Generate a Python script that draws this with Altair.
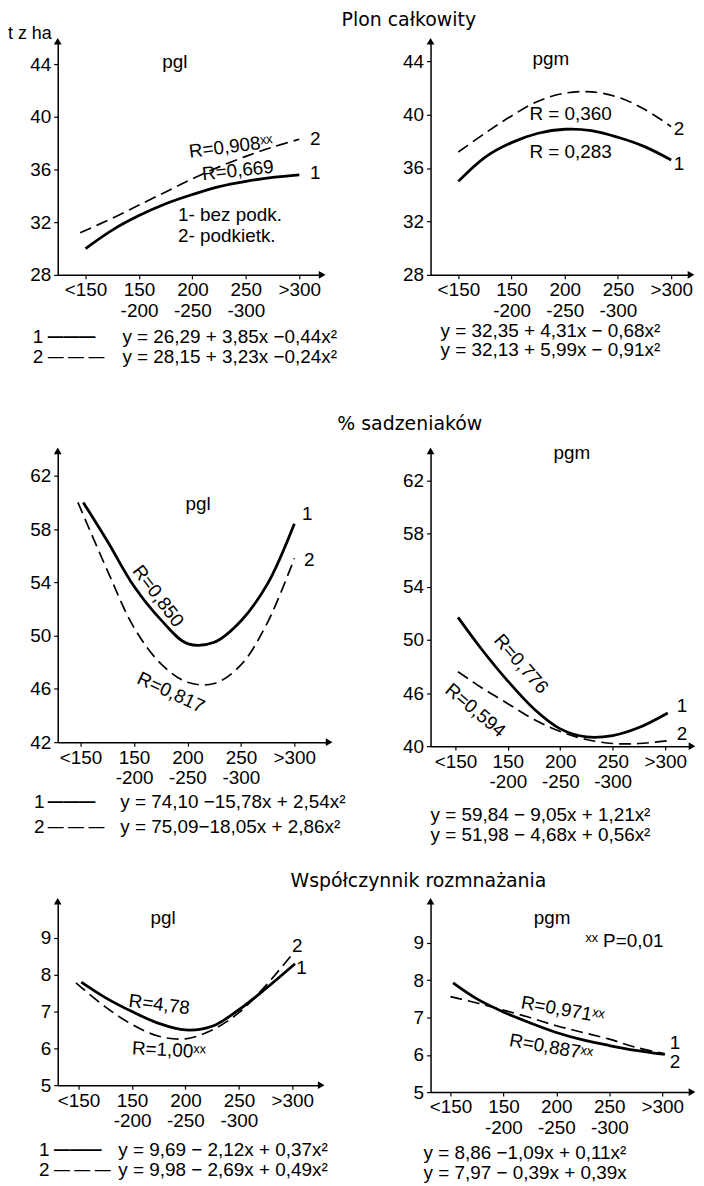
import altair as alt
import pandas as pd

FONT = "Liberation Sans"
TFONT = "DejaVu Sans"
FS = 19

# x categories (tuber size classes, g)
X_TICKS = [1, 2, 3, 4, 5]
XLAB_TOP = ["<150", "150", "200", "250", ">300"]
XLAB_BOT = ["", "-200", "-250", "-300", ""]

# ---------- Plon całkowity ----------
P1_X1 = [1.0, 1.5, 2.0, 2.5, 3.0, 3.5, 4.0, 4.5, 5.0]
P1_Y1 = [30.0, 31.4, 32.5, 33.4, 34.1, 34.7, 35.1, 35.4, 35.6]
P1_X2 = [0.9, 1.5, 2.0, 2.5, 3.0, 3.5, 4.0, 4.5, 5.0]
P1_Y2 = [31.2, 32.3, 33.3, 34.3, 35.3, 36.2, 37.0, 37.7, 38.3]

P2_X1 = [1.0, 1.5, 2.0, 2.5, 3.0, 3.5, 4.0, 4.5, 5.0]
P2_Y1 = [35.0, 36.8, 37.9, 38.6, 38.9, 38.8, 38.3, 37.6, 36.6]
P2_X2 = [1.0, 1.5, 2.0, 2.5, 3.0, 3.5, 4.0, 4.5, 5.0]
P2_Y2 = [37.2, 38.6, 39.9, 41.0, 41.6, 41.7, 41.3, 40.4, 39.1]

# ---------- % sadzeniaków ----------
P3_X1 = [1.05, 1.5, 2.0, 2.5, 3.0, 3.5, 4.0, 4.5, 5.0]
P3_Y1 = [60.0, 57.1, 53.7, 51.2, 49.4, 49.5, 51.1, 53.9, 58.4]
P3_X2 = [0.95, 1.5, 2.0, 2.5, 3.0, 3.5, 4.0, 4.5, 5.0]
P3_Y2 = [60.0, 54.9, 50.6, 47.9, 46.5, 46.4, 47.8, 51.0, 55.8]

P4_X1 = [1.05, 1.5, 2.0, 2.5, 3.0, 3.5, 4.0, 4.5, 5.05]
P4_Y1 = [51.7, 49.3, 46.9, 44.8, 43.3, 42.7, 42.8, 43.4, 44.5]
P4_X2 = [1.05, 1.5, 2.0, 2.5, 3.0, 3.5, 4.0, 4.5, 5.05]
P4_Y2 = [47.6, 46.4, 45.2, 44.0, 43.1, 42.5, 42.2, 42.2, 42.4]

# ---------- Współczynnik rozmnażania ----------
P5_X1 = [1.05, 1.5, 2.0, 2.5, 3.0, 3.5, 4.0, 4.5, 5.05]
P5_Y1 = [7.8, 7.38, 7.0, 6.68, 6.5, 6.6, 7.05, 7.62, 8.3]
P5_X2 = [0.95, 1.5, 2.0, 2.5, 3.0, 3.5, 4.0, 4.5, 5.05]
P5_Y2 = [7.78, 7.13, 6.65, 6.33, 6.26, 6.5, 6.97, 7.7, 8.65]

P6_X1 = [1.05, 1.5, 2.0, 2.5, 3.0, 3.5, 4.0, 4.5, 5.05]
P6_Y1 = [7.93, 7.5, 7.15, 6.86, 6.6, 6.4, 6.25, 6.12, 6.01]
P6_X2 = [1.0, 1.5, 2.0, 2.5, 3.0, 3.5, 4.0, 4.5, 5.05]
P6_Y2 = [7.56, 7.39, 7.2, 7.0, 6.78, 6.6, 6.42, 6.2, 6.03]

Y_TICKS_A = [28, 32, 36, 40, 44]
Y_TICKS_B = [42, 46, 50, 54, 58, 62]
Y_TEXT_B4 = ["40", "46", "50", "54", "58", "62"]
Y_TICKS_C = [5, 6, 7, 8, 9]

X_EXPR = "[" + ",".join("['%s','%s']" % (a, b) for a, b in zip(XLAB_TOP, XLAB_BOT)) + "][round(datum.value) - 1]"


def y_expr(ticks, texts):
    e = "datum.label"
    for t, s in zip(ticks, texts):
        e = "datum.value == %s ? '%s' : (%s)" % (t, s, e)
    return e


def note(x, y, text, align="center", angle=0, size=FS, baseline="middle", font=FONT, weight="normal"):
    return dict(x=x, y=y, t=text, align=align, angle=angle, size=size, baseline=baseline,
                font=font, weight=weight)


def legend_marks(x_num, x_line, y1, y2):
    return [note(x_num, y1, "1", align="left"), note(x_num, y2, "2", align="left"),
            note(x_line, y1, "\u2014\u2014\u2014", align="left", weight="bold", size=16),
            note(x_line, y2, "\u2014 \u2014 \u2014", align="left", size=16)]


def panel(xdom, ydom, w, h, yticks, ylabexpr, curves, notes):
    xs = alt.Scale(domain=xdom, nice=False, zero=False)
    ys = alt.Scale(domain=ydom, nice=False, zero=False)
    xaxis = alt.Axis(values=X_TICKS, labelExpr=X_EXPR, title=None, labelPadding=2,
                     labelLineHeight=21, tickSize=4, labelBaseline="top")
    yaxis = alt.Axis(values=yticks, title=None, labelPadding=3, tickSize=4,
                     **({"labelExpr": ylabexpr} if ylabexpr else {}))
    X = lambda: alt.X("x:Q", scale=xs, axis=xaxis)
    Y = lambda: alt.Y("y:Q", scale=ys, axis=yaxis)
    layers = []
    for cx, cy, dashed in curves:
        df = pd.DataFrame({"x": cx, "y": cy})
        if dashed:
            m = alt.Chart(df).mark_line(color="black", strokeWidth=1.7, strokeDash=[12, 6],
                                        interpolate="catmull-rom")
        else:
            m = alt.Chart(df).mark_line(color="black", strokeWidth=2.8, interpolate="catmull-rom")
        layers.append(m.encode(x=X(), y=Y()))
    arrows = pd.DataFrame({"x": [xdom[1], xdom[0]], "y": [ydom[0], ydom[1]],
                           "s": ["triangle-right", "triangle-up"]})
    layers.append(
        alt.Chart(arrows).mark_point(filled=True, color="black", size=60, opacity=1)
        .encode(x=X(), y=Y(), shape=alt.Shape("s:N", scale=None))
    )
    for n in notes:
        df = pd.DataFrame({"x": [n["x"]], "y": [n["y"]], "t": [n["t"]]})
        layers.append(
            alt.Chart(df).mark_text(align=n["align"], baseline=n["baseline"], angle=n["angle"],
                                    font=n["font"], fontSize=n["size"], fontWeight=n["weight"],
                                    color="black")
            .encode(x=X(), y=Y(), text="t:N")
        )
    return alt.layer(*layers).properties(width=w, height=h)


TS = 19

p1 = panel([0.479, 5.428], [28, 45.74], 266, 235, Y_TICKS_A, None,
           [(P1_X1, P1_Y1, False), (P1_X2, P1_Y2, True)],
           [note(-0.451, 46.26, "t z ha", align="left", size=18),
            note(2.67, 44.15, "pgl"),
            note(3.72, 37.74, "R=0,908\u02e3\u02e3", angle=353),
            note(3.85, 35.92, "R=0,669", angle=354),
            note(5.30, 38.34, "2"), note(5.30, 35.70, "1"),
            note(2.73, 32.53, "1- bez podk.", align="left"),
            note(2.73, 30.94, "2- podkietk.", align="left"),
            note(1.69, 23.25, "y = 26,29 + 3,85x \u22120,44x\u00b2", align="left"),
            note(1.69, 21.74, "y = 28,15 + 3,23x \u22120,24x\u00b2", align="left"),
            note(7.05, 48.004, "Plon całkowity", size=TS, baseline="top", font=TFONT)]
           + legend_marks(0.014, 0.293, 23.25, 21.74))

p2 = panel([0.477, 5.374], [28, 45.49], 262, 235, Y_TICKS_A, None,
           [(P2_X1, P2_Y1, False), (P2_X2, P2_Y2, True)],
           [note(2.74, 44.15, "pgm"),
            note(3.11, 40.05, "R = 0,360"),
            note(3.11, 37.23, "R = 0,283"),
            note(5.15, 38.94, "2"), note(5.15, 36.33, "1"),
            note(0.664, 23.83, "y = 32,35 + 4,31x \u2212 0,68x\u00b2", align="left"),
            note(0.664, 22.35, "y = 32,13 + 5,99x \u2212 0,91x\u00b2", align="left")])

p3 = panel([0.572, 5.651], [42, 63.87], 273, 293, Y_TICKS_B, None,
           [(P3_X1, P3_Y1, False), (P3_X2, P3_Y2, True)],
           [note(3.20, 59.91, "pgl"),
            note(2.45, 52.97, "R=0,850", angle=53),
            note(2.69, 45.73, "R=0,817", angle=25),
            note(5.24, 59.16, "1"), note(5.28, 55.66, "2"),
            note(1.744, 37.52, "y = 74,10 \u221215,78x + 2,54x\u00b2", align="left"),
            note(1.744, 35.66, "y = 75,09\u221218,05x + 2,86x\u00b2", align="left"),
            note(7.16, 65.88, "% sadzeniaków", size=TS, font=TFONT)]
           + legend_marks(0.126, 0.386, 37.52, 35.66))

p4 = panel([0.526, 5.512], [42, 64.25], 263, 297, Y_TICKS_B, y_expr(Y_TICKS_B, Y_TEXT_B4),
           [(P4_X1, P4_Y1, False), (P4_X2, P4_Y2, True)],
           [note(3.22, 64.10, "pgm"),
            note(2.25, 48.2, "R=0,776", angle=49),
            note(1.38, 44.7, "R=0,594", angle=40),
            note(5.32, 45.0, "1"), note(5.32, 42.9, "2"),
            note(0.526, 36.83, "y = 59,84 \u2212 9,05x + 1,21x\u00b2", align="left"),
            note(0.526, 35.33, "y = 51,98 \u2212 4,68x + 0,56x\u00b2", align="left")])

p5 = panel([0.609, 5.54], [5, 10.0], 265, 185, Y_TICKS_C, None,
           [(P5_X1, P5_Y1, False), (P5_X2, P5_Y2, True)],
           [note(2.58, 9.54, "pgl"),
            note(2.51, 7.19, "R=4,78", angle=7),
            note(2.69, 5.95, "R=1,00\u02e3\u02e3", angle=3),
            note(5.09, 8.78, "2"), note(5.17, 8.19, "1"),
            note(1.744, 3.24, "y = 9,69 \u2212 2,12x + 0,37x\u00b2", align="left"),
            note(1.744, 2.70, "y = 9,98 \u2212 2,69x + 0,49x\u00b2", align="left"),
            note(7.36, 10.54, "Współczynnik rozmnażania", size=TS, font=TFONT)]
           + legend_marks(0.26, 0.54, 3.24, 2.70))

p6 = panel([0.624, 5.563], [5, 10.12], 263, 192, Y_TICKS_C, None,
           [(P6_X1, P6_Y1, False), (P6_X2, P6_Y2, True)],
           [note(2.92, 9.67, "pgm"),
            note(3.55, 9.05, "\u02e3\u02e3 P=0,01", align="left"),
            note(3.12, 7.21, "R=0,971\u02e3\u02e3", angle=10),
            note(2.90, 6.20, "R=0,887\u02e3\u02e3", angle=10),
            note(5.24, 6.33, "1"), note(5.24, 5.80, "2"),
            note(0.493, 3.37, "y = 8,86 \u22121,09x + 0,11x\u00b2", align="left"),
            note(0.493, 2.84, "y = 7,97 \u2212 0,39x + 0,39x", align="left")])


def spacer(w, h):
    return alt.Chart(pd.DataFrame({"a": [0]})).mark_point(opacity=0).properties(width=w, height=h)


chart = alt.concat(
    p1, p2,
    spacer(273, 177), spacer(262, 177),
    p3, p4,
    spacer(273, 156), spacer(262, 156),
    p5, p6,
    columns=2, spacing={"row": 0, "column": 102}, bounds="flush", align="each",
).properties(padding=0).configure_view(stroke=None).configure_axis(
    domainColor="black", domainWidth=1.5, tickColor="black", tickWidth=1.2,
    labelColor="black", labelFont=FONT, labelFontSize=FS, grid=False,
    labelOverlap=False, labelFlush=False, labelBound=False,
)

chart.save("out.html", embed_options={"renderer": "svg", "actions": False})
